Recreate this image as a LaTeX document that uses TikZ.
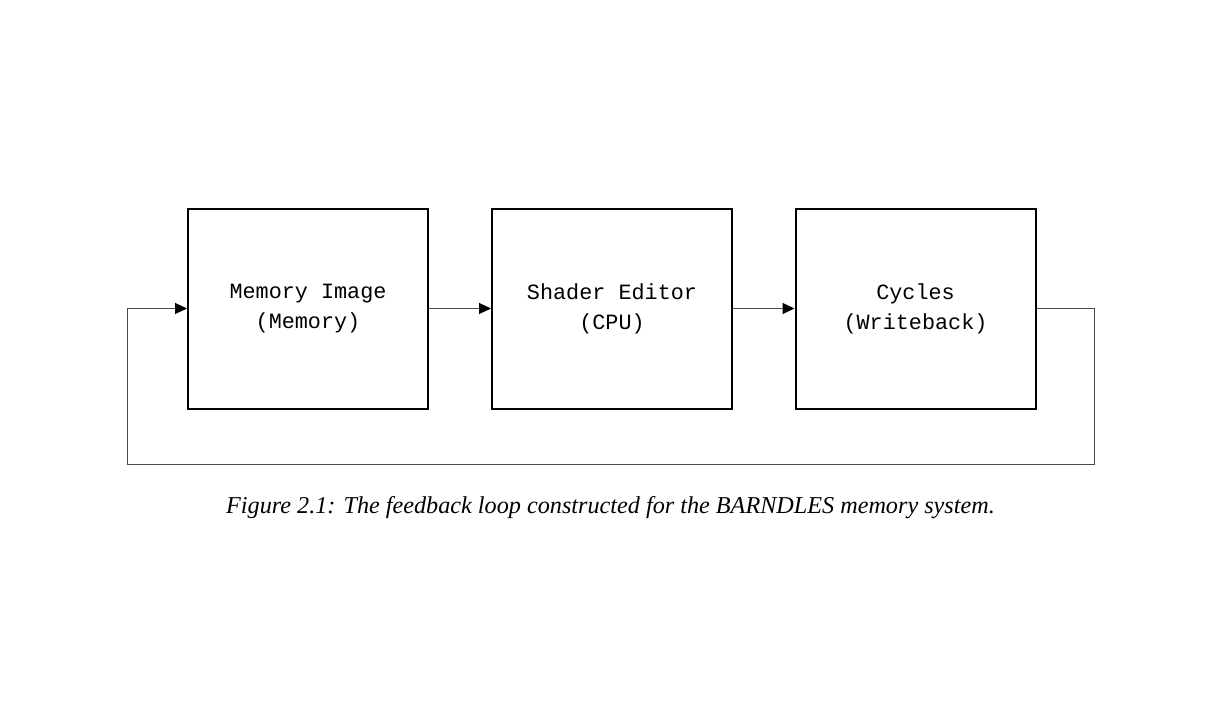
\documentclass[tikz,border=0pt]{standalone}
\usepackage{fontspec}
\setmainfont{Liberation Serif}
\setmonofont{Liberation Mono}
\usetikzlibrary{arrows.meta}
\begin{document}
\begin{tikzpicture}[x=1pt,y=-1pt,
  blk/.style={draw=black,line width=2pt,minimum width=240pt,minimum height=200pt,inner sep=0pt,
    font=\fontsize{21.8}{30}\selectfont\ttfamily,align=center},
  conn/.style={draw=black!70,line width=1pt},
  tip/.style={-{Triangle[length=12pt,width=11pt,fill=black,color=black]}}]
\useasboundingbox (0,0) rectangle (1213,720);
\node[blk] (mem) at (308,308.5) {Memory Image\\(Memory)};
\node[blk] (cpu) at (612,308.5) {Shader Editor\\(CPU)};
\node[blk] (wb) at (915.5,308.5) {Cycles\\(Writeback)};
\coordinate (r) at (wb.east -| 1094,0);
\coordinate (rb) at (1094,464);
\coordinate (lb) at (127,464);
\coordinate (l) at (mem.west -| 127,0);
\draw[conn,tip] (mem.east) -- (cpu.west);
\draw[conn,tip] (cpu.east) -- (wb.west);
\draw[conn,tip] (wb.east) -- (r) -- (rb) -- (lb) -- (l) -- (mem.west);
\node[font=\fontsize{24.2}{30}\selectfont\itshape] (cap) at (610.5,507.5) {Figure 2.1: The feedback loop constructed for the BARNDLES memory system.};
\end{tikzpicture}
\end{document}
